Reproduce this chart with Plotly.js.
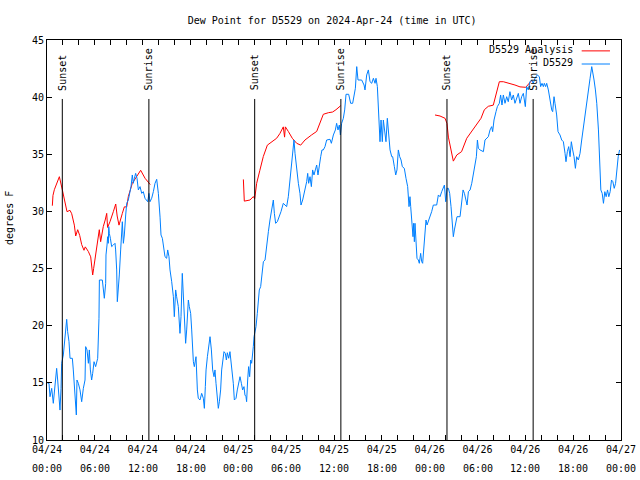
<!DOCTYPE html>
<html>
<head>
<meta charset="utf-8">
<script src="https://cdn.plot.ly/plotly-3.0.1.min.js"></script>
<style>html,body{margin:0;padding:0;background:#fff;}#chart{width:640px;height:480px;}</style>
</head>
<body>
<div id="chart"></div>
<script>
// Hours since 2024-04-24 00:00 UTC
const blueHours = [0.08,0.25,0.38,0.59,0.79,1.0,1.21,1.34,1.51,1.63,1.76,1.84,2.05,2.17,2.34,2.47,2.59,2.76,2.89,3.18,3.30,3.51,3.68,3.76,3.93,4.14,4.35,4.56,4.77,4.85,5.02,5.19,5.31,5.44,5.6,5.73,5.9,6.1,6.36,6.52,6.57,6.94,7.07,7.19,7.36,7.4,7.53,7.61,7.69,7.75,7.82,7.95,8.11,8.32,8.53,8.61,8.74,8.82,8.95,9.07,9.24,9.45,9.58,9.7,9.87,10.0,10.2,10.41,10.54,10.7,10.83,10.96,11.12,11.29,11.46,11.67,11.88,12.08,12.29,12.63,12.79,12.92,13.13,13.34,13.55,13.76,13.97,14.18,14.3,14.47,14.64,14.8,15.01,15.14,15.3,15.43,15.64,15.85,15.97,16.14,16.26,16.47,16.68,16.81,16.97,17.1,17.22,17.39,17.52,17.73,17.85,18.02,18.15,18.27,18.36,18.48,18.69,18.86,18.98,19.19,19.4,19.61,19.74,19.86,19.95,20.12,20.28,20.45,20.62,20.78,20.95,21.07,21.2,21.37,21.49,21.62,21.78,21.91,22.04,22.2,22.37,22.5,22.62,22.79,22.95,23.08,23.25,23.37,23.5,23.71,23.87,24.04,24.21,24.38,24.54,24.71,24.83,24.96,25.04,25.17,25.29,25.42,25.55,25.67,25.76,25.88,25.97,26.22,26.38,26.63,26.8,26.93,27.14,27.35,27.55,27.77,27.97,28.18,28.39,28.52,28.68,28.89,29.14,29.35,29.64,29.85,30.06,30.27,30.4,30.57,30.69,30.82,30.98,31.11,31.23,31.4,31.53,31.73,31.86,32.07,32.24,32.4,32.57,32.7,32.82,32.99,33.16,33.32,33.49,33.66,33.83,33.99,34.16,34.33,34.49,34.66,34.87,35.08,35.5,35.67,35.92,36.17,36.33,36.5,36.67,36.8,36.96,37.17,37.34,37.51,37.84,38.09,38.34,38.51,38.68,38.85,39.01,39.47,39.77,39.89,40.1,40.31,40.52,40.73,40.94,41.15,41.27,41.44,41.56,41.69,41.77,41.9,42.06,42.19,42.4,42.52,42.69,42.82,43.03,43.24,43.36,43.57,43.74,43.9,44.07,44.24,44.41,44.57,44.82,45.03,45.24,45.41,45.53,45.62,45.74,45.91,45.99,46.08,46.16,46.29,46.41,46.58,46.7,46.87,47.0,47.12,47.25,47.42,47.54,47.67,47.83,48.04,48.25,48.46,48.88,49.09,49.3,49.51,49.72,49.85,50.01,50.18,50.35,50.51,50.68,50.85,50.97,51.1,51.27,51.43,51.81,52.02,52.19,52.36,52.52,52.69,52.86,53.07,53.28,53.49,53.7,53.86,53.99,54.11,54.32,54.74,54.94,55.15,55.36,55.57,55.78,55.9,56.07,56.32,56.49,56.74,56.9,57.07,57.24,57.45,57.66,57.86,58.07,58.28,58.49,58.7,58.91,59.12,59.33,59.54,59.75,60.0,60.17,60.37,60.58,60.79,61.0,61.21,61.5,61.76,61.92,62.09,62.26,62.38,62.55,62.68,62.89,63.01,63.18,63.31,63.43,63.6,63.72,63.93,64.1,64.35,64.56,64.77,64.98,65.1,65.27,65.44,65.61,65.77,65.94,66.11,66.28,66.44,66.65,66.86,67.07,67.28,67.49,67.7,67.91,68.12,68.33,68.45,68.62,68.79,68.96,69.17,69.3,69.47,69.64,69.8,69.97,70.14,70.31,70.47,70.64,70.81,70.98,71.15,71.32,71.48,71.65,71.82];
const blueValues = [14.96,14.96,13.79,14.52,13.21,14.96,16.27,15.25,13.65,12.62,14.52,16.71,17.44,18.46,19.92,20.56,19.48,18.6,17.15,17.15,16.13,13.79,12.19,15.25,14.96,14.38,13.35,14.52,15.25,18.17,17.88,16.71,17.88,16.13,15.25,15.83,16.85,16.42,17.15,20.65,24.0,24.0,22.83,22.4,23.7,26.19,27.06,27.79,27.21,28.67,28.08,27.65,26.92,27.06,27.21,26.63,24.88,22.1,23.13,24.44,26.63,29.1,27.21,27.94,29.69,30.71,31.0,31.58,32.17,33.19,32.46,32.9,33.33,32.9,31.88,32.17,31.58,31.73,31.15,30.85,31.58,30.85,31.15,31.73,32.46,32.81,31.58,29.5,27.94,27.65,26.92,26.04,25.9,26.63,26.04,24.88,23.85,22.54,20.79,23.13,22.54,21.67,19.33,20.79,24.58,22.83,20.2,18.46,19.63,22.25,21.67,21.08,19.63,17.88,16.85,16.42,17.29,14.38,13.65,13.5,14.08,13.65,12.77,14.67,16.13,17.29,18.46,19.04,17.88,16.13,15.54,16.13,14.96,13.65,12.77,13.35,14.38,16.13,17.0,17.73,17.58,17.0,17.64,17.15,17.73,17.0,15.83,14.96,13.5,13.65,14.38,14.96,15.54,14.96,14.38,14.67,13.94,13.79,13.35,15.25,16.42,15.54,17.0,16.71,17.73,18.17,19.04,19.92,21.08,23.13,23.42,24.29,25.6,25.75,27.21,28.23,29.25,29.98,31.0,29.83,28.96,29.1,29.54,29.98,30.71,30.56,30.42,31.29,32.17,33.63,34.5,35.38,36.25,35.08,34.21,32.75,32.46,31.58,30.56,31.0,31.58,31.88,32.6,33.33,32.46,33.04,32.17,33.63,33.19,33.63,34.06,33.19,34.21,34.79,35.38,35.38,35.67,36.25,36.31,35.96,36.69,37.13,37.71,37.13,37.56,36.69,37.71,38.15,38.88,40.25,40.25,39.46,39.46,40.33,40.77,42.67,41.5,41.5,41.06,40.63,41.94,42.38,41.35,41.21,41.65,41.21,41.65,40.92,39.46,38.0,36.1,38.0,36.1,38.0,36.98,36.1,38.15,36.83,35.38,34.79,34.79,33.92,33.19,33.63,35.38,34.79,34.5,33.92,33.77,32.9,32.17,30.42,31.29,30.42,29.25,27.79,28.96,27.35,28.96,27.5,25.9,25.75,25.46,26.33,25.6,25.46,26.63,28.38,29.25,28.81,29.1,29.54,29.98,30.56,30.56,31.44,31.29,31.73,32.02,32.31,30.85,32.02,32.02,31.58,30.42,28.96,27.79,28.38,29.1,29.54,29.54,31.0,31.88,31.58,31.15,30.56,31.73,31.88,32.46,33.33,34.5,34.79,36.25,35.52,35.38,35.23,36.25,36.4,36.54,37.13,37.42,36.98,38.0,38.73,39.17,39.46,40.19,39.31,40.19,39.46,40.04,39.6,40.48,39.75,40.19,39.46,39.9,40.33,39.46,40.04,40.33,39.17,40.92,40.63,41.35,41.5,41.21,41.65,41.94,41.79,40.92,41.21,40.92,41.21,40.92,41.21,40.63,40.04,39.46,38.88,38.73,40.04,39.46,38.44,36.98,36.69,36.25,36.1,35.08,34.35,35.23,35.67,34.79,36.1,35.38,34.79,33.77,34.79,34.5,35.08,36.25,37.42,38.58,39.46,40.63,41.65,42.67,42.23,41.5,40.63,39.46,37.13,33.92,31.88,31.58,30.71,31.73,31.29,31.88,31.29,31.73,32.75,32.6,32.02,32.46,33.63,34.79,35.38];

const redHours = [0.67,0.75,0.92,1.21,1.55,1.92,2.17,2.51,2.88,3.1,3.43,3.6,3.85,4.1,4.35,4.64,4.8,5.18,5.48,5.73,5.85,6.1,6.44,6.56,6.73,7.06,7.3,7.49,7.6,7.9,8.32,8.62,8.8,9.03,9.45,9.7,10.0,10.2,10.7,11.25,11.75,12.3,12.83,12.95,
  18.0,
  24.63,24.68,24.75,25.46,25.88,26.05,26.3,26.7,27.13,27.64,28.2,28.8,29.2,29.64,29.8,29.9,30.27,30.77,31.32,31.82,32.36,32.78,33.2,33.83,34.16,34.66,35.3,35.83,36.25,36.84,
  42.0,
  48.67,49.3,49.93,50.17,50.35,50.7,50.97,51.4,52.0,52.65,53.27,53.9,54.44,54.86,55.36,55.98,56.4,56.74,57.24,58.08,58.7,59.33,60.05,60.3,60.59,60.85];
const redValues = [30.5,31.4,31.9,32.46,33.04,31.9,31.15,29.98,30.1,29.8,28.8,27.85,28.4,27.9,27.1,26.6,26.9,26.5,26.03,24.44,25.0,26.3,27.65,28.4,27.35,28.67,29.25,29.83,28.6,29.1,29.98,30.65,29.6,28.8,29.83,30.4,30.4,31.3,32.46,33.04,33.6,32.9,32.4,32.35,
  null,
  32.8,31.6,30.9,31.0,31.3,31.1,32.46,33.6,34.8,35.8,36.1,36.4,36.8,37.4,36.5,37.4,37.0,36.4,35.96,35.8,36.25,36.5,36.7,37.0,37.56,38.5,38.64,38.7,38.9,39.25,
  null,
  38.44,38.35,38.15,37.7,36.5,35.4,34.4,34.94,35.23,36.4,36.98,37.56,38.15,38.9,39.2,39.3,40.34,41.35,41.35,41.2,41.06,40.9,40.86,41.06,41.27,41.5];

const sunHours = [1.92, 12.78, 26.05, 36.86, 50.17, 60.98];
const sunLabels = ["Sunset","Sunrise","Sunset","Sunrise","Sunset","Sunrise"];

const tickHours = [0,6,12,18,24,30,36,42,48,54,60,66,72];
const tickDates = ["04/24","04/24","04/24","04/24","04/25","04/25","04/25","04/25","04/26","04/26","04/26","04/26","04/27"];
const tickTimes = ["00:00","06:00","12:00","18:00","00:00","06:00","12:00","18:00","00:00","06:00","12:00","18:00","00:00"];

const seriesNames = ["D5529 Analysis", "D5529"];
const seriesColors = ["#ff0000", "#0080ff"];

const FONT = "DejaVu Sans Mono, monospace";

const traces = [
  {x: redHours, y: redValues, name: seriesNames[0], type: "scatter", mode: "lines",
   line: {color: seriesColors[0], width: 1}, connectgaps: false, showlegend: false},
  {x: blueHours, y: blueValues, name: seriesNames[1], type: "scatter", mode: "lines",
   line: {color: seriesColors[1], width: 1}, showlegend: false}
];

const shapes = [];
const annotations = [];
sunHours.forEach((h, i) => {
  shapes.push({type: "line", xref: "x", yref: "y", x0: h, x1: h, y0: 10, y1: 39.84,
    line: {color: "#000", width: 1}});
  annotations.push({xref: "x", yref: "y", x: h, y: 40.4, text: sunLabels[i], textangle: -90,
    showarrow: false, xanchor: "center", yanchor: "bottom", font: {family: FONT, size: 10, color: "#000"}});
});

// second row of x tick labels (times), 16 px below the date row
tickHours.forEach((h, i) => {
  annotations.push({xref: "x", yref: "paper", x: h, y: 0, yshift: -28, text: tickTimes[i],
    showarrow: false, xanchor: "center", yanchor: "middle", font: {family: FONT, size: 10, color: "#000"}});
});

// custom legend (text left of sample line, like the original)
const legY = [0.9768, 0.944];
seriesNames.forEach((n, i) => {
  annotations.push({xref: "paper", yref: "paper", x: 0.92, y: legY[i], text: n, showarrow: false,
    xanchor: "right", yanchor: "middle", font: {family: FONT, size: 10, color: "#000"}});
  shapes.push({type: "line", xref: "paper", yref: "paper", x0: 0.9315, x1: 0.9808, y0: legY[i] - 0.004, y1: legY[i] - 0.004,
    line: {color: seriesColors[i], width: 1}});
});

annotations.push({xref: "paper", yref: "paper", x: -0.0645, y: 0.555, text: "degrees F", textangle: -90,
  showarrow: false, xanchor: "center", yanchor: "middle", font: {family: FONT, size: 10, color: "#000"}});

const layout = {
  width: 640, height: 480,
  margin: {l: 47, r: 19, t: 40, b: 40, pad: 0},
  paper_bgcolor: "#fff", plot_bgcolor: "#fff",
  font: {family: FONT, size: 10, color: "#000"},
  title: {text: "Dew Point for D5529 on 2024-Apr-24 (time in UTC)", font: {family: FONT, size: 10, color: "#000"},
    x: 0.519, xref: "container", xanchor: "center", y: 0.958, yref: "container", yanchor: "middle"},
  showlegend: false,
  xaxis: {range: [0, 72], tickmode: "array", tickvals: tickHours, ticktext: tickDates,
    ticks: "inside", ticklen: 5, tickcolor: "#000", tickwidth: 1,
    showline: true, linecolor: "#000", linewidth: 1, mirror: "ticks",
    showgrid: false, zeroline: false, tickangle: 0,
    minor: {tickmode: "linear", tick0: 0, dtick: 2, ticks: "inside", ticklen: 5, tickcolor: "#000", showgrid: false},
    tickfont: {family: FONT, size: 10, color: "#000"}},
  yaxis: {range: [10, 45], tickmode: "linear", tick0: 10, dtick: 5,
    ticks: "inside", ticklen: 5, tickcolor: "#000", tickwidth: 1,
    showline: true, linecolor: "#000", linewidth: 1, mirror: "ticks",
    showgrid: false, zeroline: false,
    tickfont: {family: FONT, size: 10, color: "#000"}},
  shapes: shapes,
  annotations: annotations
};

Plotly.newPlot("chart", traces, layout, {displayModeBar: false, staticPlot: true});
</script>
</body>
</html>
